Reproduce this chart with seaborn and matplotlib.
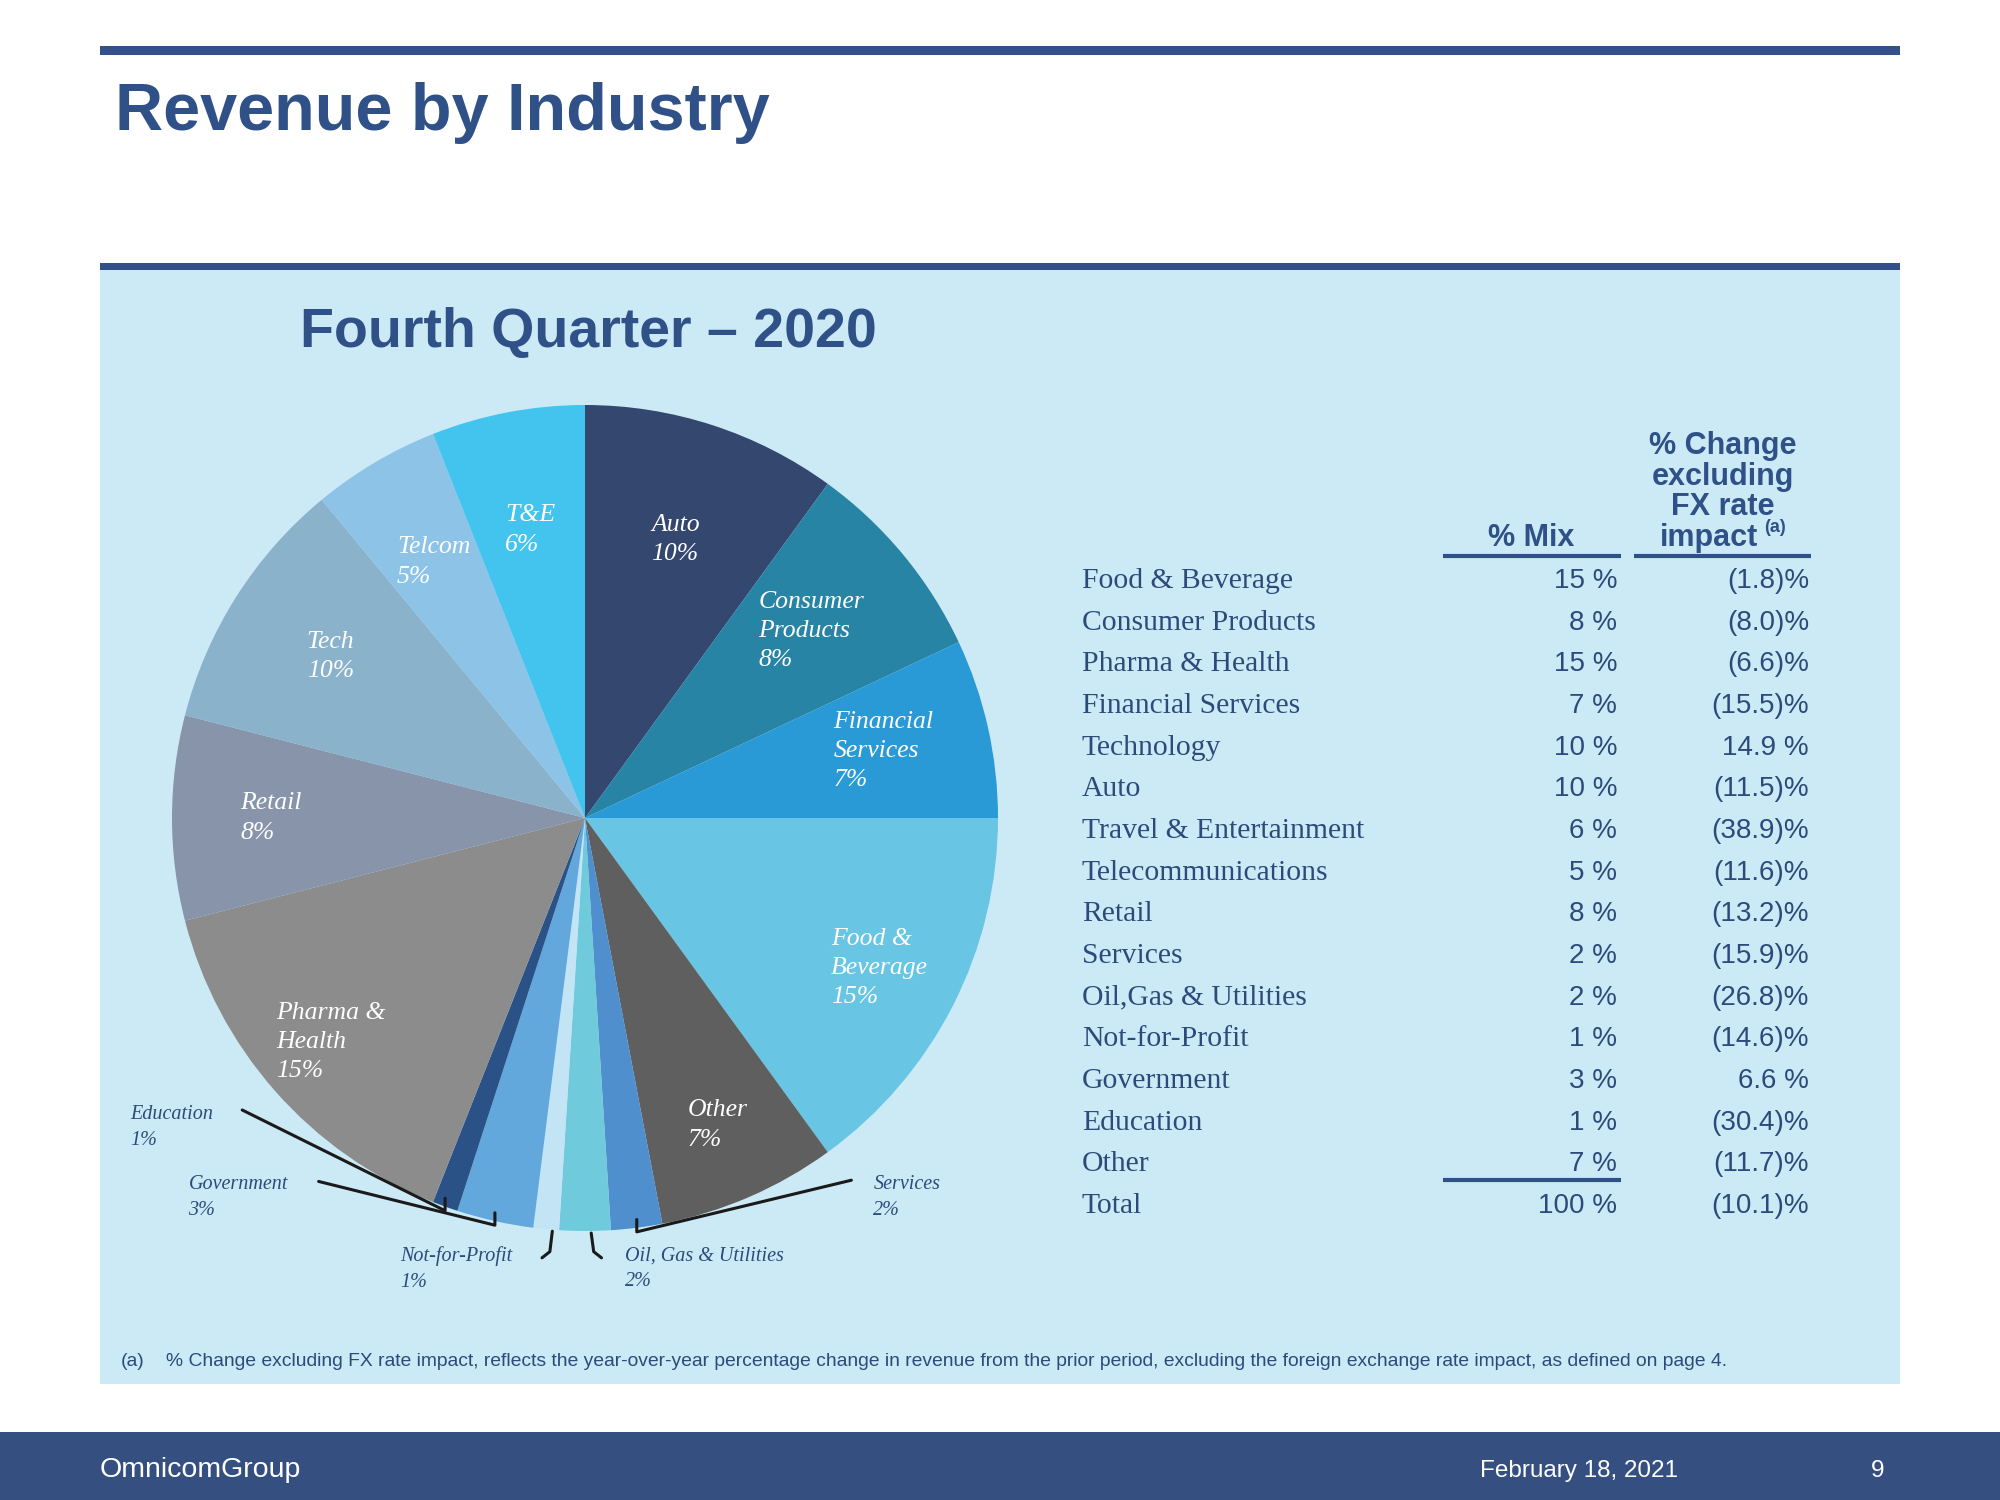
import matplotlib.pyplot as plt
import numpy as np
import seaborn as sns
from matplotlib.patches import Rectangle

# pie slices, clockwise from 12 o'clock
pie_names = ["Auto", "Consumer\nProducts", "Financial\nServices", "Food &\nBeverage", "Other",
             "Services", "Oil, Gas & Utilities", "Not-for-Profit", "Government", "Education",
             "Pharma &\nHealth", "Retail", "Tech", "Telcom", "T&E"]
pie_share = [10, 8, 7, 15, 7, 2, 2, 1, 3, 1, 15, 8, 10, 5, 6]

# table on the right
table_names = ["Food & Beverage", "Consumer Products", "Pharma & Health", "Financial Services",
               "Technology", "Auto", "Travel & Entertainment", "Telecommunications", "Retail",
               "Services", "Oil,Gas & Utilities", "Not-for-Profit", "Government", "Education", "Other"]
table_mix = [15, 8, 15, 7, 10, 10, 6, 5, 8, 2, 2, 1, 3, 1, 7]
table_change = [-1.8, -8.0, -6.6, -15.5, 14.9, -11.5, -38.9, -11.6, -13.2, -15.9, -26.8, -14.6, 6.6, -30.4, -11.7]
total_mix = 100
total_change = -10.1

pie_colors = sns.color_palette(["#33476f", "#2784a4", "#2a9ad6", "#68c6e4", "#5f5f5f",
                                "#4f8fcd", "#6fcadb", "#c3e4f4", "#62a8dc", "#2b5286",
                                "#8c8c8c", "#8794aa", "#8ab2cb", "#8ec3e8", "#43c4ee"])

sns.set_theme(style="white")
plt.rcParams["font.family"] = ["Liberation Sans", "DejaVu Sans"]

NAVY = "#2f5188"
TXT = "#2d4a7a"
SERIF = ["Liberation Serif", "DejaVu Serif"]

fig = plt.figure(figsize=(20, 15), dpi=100)

# page layer in pixel coordinates
page = fig.add_axes([0, 0, 1, 1])
page.set_xlim(0, 2000)
page.set_ylim(1500, 0)
page.axis("off")

page.add_patch(Rectangle((100, 46), 1800, 9, color="#34508a", lw=0))
page.add_patch(Rectangle((100, 269), 1800, 1115, color="#cbeaf6", lw=0))
page.add_patch(Rectangle((100, 263), 1800, 7, color="#34508a", lw=0))
page.add_patch(Rectangle((0, 1432), 2000, 68, color="#344f80", lw=0))

page.text(115, 130, "Revenue by Industry", fontsize=48, fontweight="bold", color=NAVY, va="baseline")
page.text(300, 347, "Fourth Quarter \u2013 2020", fontsize=40, fontweight="bold", color=NAVY, va="baseline")

# table headers
page.text(1531, 546, "% Mix", fontsize=22, fontweight="bold", color=NAVY, ha="center", va="baseline")
for line, yb in zip(["% Change", "excluding", "FX rate"], [454, 485, 515]):
    page.text(1723, yb, line, fontsize=22, fontweight="bold", color=NAVY, ha="center", va="baseline")
page.text(1709, 546, "impact", fontsize=22, fontweight="bold", color=NAVY, ha="center", va="baseline")
page.text(1764, 532, "(a)", fontsize=13, fontweight="bold", color=NAVY, ha="left", va="baseline")
page.plot([1443, 1621], [556, 556], color=NAVY, lw=3, solid_capstyle="butt")
page.plot([1634, 1811], [556, 556], color=NAVY, lw=3, solid_capstyle="butt")


def fmt_change(v):
    return f"({abs(v):.1f})%" if v < 0 else f"{v:.1f} %"


row_y0, row_h = 588, 41.67
for i, (name, mix, chg) in enumerate(zip(table_names, table_mix, table_change)):
    y = row_y0 + i * row_h
    page.text(1082, y, name, fontsize=21.3, family=SERIF, color=TXT, va="baseline")
    page.text(1617, y, f"{mix} %", fontsize=20, color=TXT, ha="right", va="baseline")
    page.text(1809, y, fmt_change(chg), fontsize=20, color=TXT, ha="right", va="baseline")
y_tot = row_y0 + len(table_names) * row_h
page.plot([1443, 1621], [y_tot - 33, y_tot - 33], color=NAVY, lw=3, solid_capstyle="butt")
page.text(1082, y_tot, "Total", fontsize=21.3, family=SERIF, color=TXT, va="baseline")
page.text(1617, y_tot, f"{total_mix} %", fontsize=20, color=TXT, ha="right", va="baseline")
page.text(1809, y_tot, fmt_change(total_change), fontsize=20, color=TXT, ha="right", va="baseline")

# footnote and footer
page.text(121, 1366, "(a)", fontsize=13.9, color=TXT, va="baseline")
page.text(166, 1366, "% Change excluding FX rate impact, reflects the year-over-year percentage change in revenue "
          "from the prior period, excluding the foreign exchange rate impact, as defined on page 4.",
          fontsize=13.9, color=TXT, va="baseline")
page.text(100, 1477, "OmnicomGroup", fontsize=20.5, color="white", va="baseline")
page.text(1480, 1477, "February 18, 2021", fontsize=17.5, color="white", va="baseline")
page.text(1878, 1477, "9", fontsize=17.5, color="white", ha="center", va="baseline")

# pie
cx, cy, R = 585, 818, 413
half = 1.3 * R
pie_ax = fig.add_axes([(cx - half) / 2000, (1500 - cy - half) / 1500, 2 * half / 2000, 2 * half / 1500])
wedges, _ = pie_ax.pie(pie_share, colors=pie_colors, startangle=90, counterclock=False,
                       wedgeprops=dict(linewidth=0))
pie_ax.set_xlim(-1.3, 1.3)
pie_ax.set_ylim(-1.3, 1.3)
pie_ax.axis("off")

# label radius (fraction of R) for inside labels; None = outside label
label_r = [0.71, 0.71, 0.74, 0.80, 0.81, None, None, None, None, None, 0.82, 0.76, 0.73, 0.72, 0.71]
for w, name, share, r in zip(wedges, pie_names, pie_share, label_r):
    if r is None:
        continue
    a = np.deg2rad((w.theta1 + w.theta2) / 2)
    pie_ax.text(r * np.cos(a), r * np.sin(a), f"{name}\n{share}%", ha="center", va="center",
                multialignment="left", color="white", style="italic", family=SERIF,
                fontsize=18.5, linespacing=1.42)

# outside labels: text top-left, leader start (None = short bracket under the rim)
outside = {
    "Education": ((-1.102, -0.694), (-0.83, -0.707)),
    "Government": ((-0.960, -0.864), (-0.645, -0.880)),
    "Not-for-Profit": ((-0.448, -1.037), None),
    "Oil, Gas & Utilities": ((0.096, -1.037), None),
    "Services": ((0.698, -0.864), (0.645, -0.877)),
}
bracket_side = {"Not-for-Profit": -1, "Oil, Gas & Utilities": 1}
for w, name, share in zip(wedges, pie_names, pie_share):
    if name not in outside:
        continue
    (tx, ty), start = outside[name]
    a = np.deg2rad((w.theta1 + w.theta2) / 2)
    rx, ry = np.cos(a), np.sin(a)
    pie_ax.text(tx, ty, f"{name}\n{share}%", ha="left", va="top", color=TXT, style="italic",
                family=SERIF, fontsize=14.5, linespacing=1.5)
    if start is not None:
        pie_ax.plot([start[0], rx, rx], [start[1], ry - 0.01, ry + 0.02], color="#1a1a1a", lw=2.2)
    else:
        s = bracket_side[name]
        bx = rx + 0.015
        pie_ax.plot([bx, bx + 0.006 * s, bx + 0.025 * s],
                    [ry - 0.005, -1.05, -1.065], color="#1a1a1a", lw=2.2)

fig.savefig("out.png", dpi=100)
